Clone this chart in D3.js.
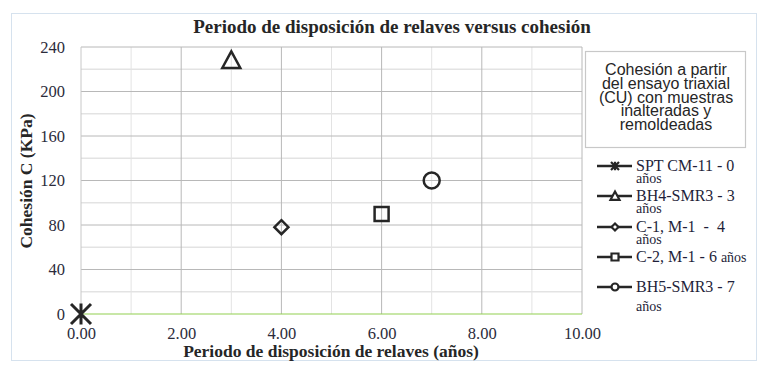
<!DOCTYPE html>
<html><head><meta charset="utf-8">
<script src="https://cdn.jsdelivr.net/npm/d3@7"></script>
<style>body{margin:0;background:#fff} text{white-space:pre}</style>
</head><body>
<svg id="c" width="763" height="365"></svg>
<script>
const seriesNames = ["SPT CM-11 - 0 años","BH4-SMR3 - 3 años","C-1, M-1  -  4 años","C-2, M-1 - 6 años","BH5-SMR3 - 7 años"];
const seriesX = [0, 3, 4, 6, 7];
const seriesY = [0, 228, 78, 90, 120];
const seriesSymbols = ["asterisk","triangle","diamond","square","circle"];
const xTicks = [0,2,4,6,8,10];
const yTicks = [0,40,80,120,160,200,240];
const legendTitle = ["Cohesión a partir","del ensayo triaxial","(CU) con muestras","inalteradas y","remoldeadas"];

const svg = d3.select("#c");
const L=81,R=582,T=47,B=314;
const x = d3.scaleLinear().domain([0,10]).range([L,R]);
const y = d3.scaleLinear().domain([0,240]).range([B,T]);
const serif = "'Liberation Serif','Times New Roman',serif";
const sans = "'Liberation Sans',Arial,sans-serif";

svg.append("rect").attr("x",11.5).attr("y",13.5).attr("width",745).attr("height",347)
  .attr("fill","#fff").attr("stroke","#d6e2ee");

// minor grid
const g = svg.append("g");
d3.range(1,10,2).forEach(v=>g.append("line").attr("x1",x(v)).attr("x2",x(v)).attr("y1",T).attr("y2",B).attr("stroke","#e3e3e3"));
d3.range(20,240,40).forEach(v=>g.append("line").attr("x1",L).attr("x2",R).attr("y1",y(v)).attr("y2",y(v)).attr("stroke","#e3e3e3").attr("stroke-width",1.5));
// major grid
xTicks.slice(1).forEach(v=>g.append("line").attr("x1",x(v)).attr("x2",x(v)).attr("y1",T).attr("y2",B).attr("stroke","#b8b8b8"));
yTicks.slice(1).forEach(v=>g.append("line").attr("x1",L).attr("x2",R).attr("y1",y(v)).attr("y2",y(v)).attr("stroke","#b8b8b8"));
g.append("line").attr("x1",L).attr("x2",L).attr("y1",T).attr("y2",B).attr("stroke","#c8c8c8");
g.append("line").attr("x1",L).attr("x2",R).attr("y1",y(0)).attr("y2",y(0)).attr("stroke","#92d050").attr("stroke-width",1.2);

// axes
const xa = svg.append("g").attr("transform",`translate(0,${B})`)
  .call(d3.axisBottom(x).tickValues(xTicks).tickFormat(d3.format(".2f")).tickSize(0).tickPadding(13));
const ya = svg.append("g").attr("transform",`translate(${L},0)`)
  .call(d3.axisLeft(y).tickValues(yTicks).tickSize(0).tickPadding(16));
[xa,ya].forEach(a=>{a.select(".domain").remove();a.selectAll("text").attr("font-family",serif).attr("font-size",16.5).attr("fill","#2b2b3b");});

// title and labels
svg.append("text").attr("x",392).attr("y",33).attr("text-anchor","middle").attr("font-family",serif)
  .attr("font-weight","bold").attr("font-size",19).attr("fill","#262626").text("Periodo de disposición de relaves versus cohesión");
svg.append("text").attr("x",331).attr("y",357).attr("text-anchor","middle").attr("font-family",serif)
  .attr("font-weight","bold").attr("font-size",17.5).attr("fill","#262626").text("Periodo de disposición de relaves (años)");
svg.append("text").attr("transform","translate(32,181) rotate(-90)").attr("text-anchor","middle").attr("font-family",serif)
  .attr("font-weight","bold").attr("font-size",17.5).attr("fill","#262626").text("Cohesión C (KPa)");

function symbolPath(name, s){
  const h=s/2;
  if(name==="asterisk") return `M${-h},${-h}L${h},${h}M${-h},${h}L${h},${-h}M0,${-h*1.05}L0,${h*1.05}`;
  if(name==="triangle") return `M0,${-h}L${h},${h*0.85}L${-h},${h*0.85}Z`;
  if(name==="diamond") return `M0,${-h}L${h},0L0,${h}L${-h},0Z`;
  if(name==="square") return `M${-h},${-h}H${h}V${h}H${-h}Z`;
  if(name==="circle") return `M${h},0A${h},${h} 0 1 1 ${-h},0A${h},${h} 0 1 1 ${h},0Z`;
}
const sizes = {asterisk:20,triangle:18,diamond:14,square:14,circle:16};
const col="#262626";
seriesX.forEach((vx,i)=>{
  svg.append("path").attr("transform",`translate(${x(vx)},${y(seriesY[i])})`)
    .attr("d",symbolPath(seriesSymbols[i],sizes[seriesSymbols[i]]))
    .attr("fill","none").attr("stroke",col).attr("stroke-width",seriesSymbols[i]==="asterisk"?3:2.5);
});

// legend
svg.append("rect").attr("x",585.5).attr("y",51.5).attr("width",160).attr("height",96).attr("fill","#fff").attr("stroke","#c8c8c8").attr("stroke-width",1.2);
legendTitle.forEach((t,i)=>svg.append("text").attr("x",666).attr("y",75+i*13.8).attr("text-anchor","middle")
  .attr("font-family",sans).attr("font-size",16).attr("fill","#262626").text(t));

const legY = [166,196,227,257,287];
seriesNames.forEach((n,i)=>{
  const ly = legY[i];
  svg.append("line").attr("x1",597).attr("x2",632).attr("y1",ly).attr("y2",ly).attr("stroke",col).attr("stroke-width",2.5);
  const s = seriesSymbols[i];
  const sz = s==="asterisk"?8:(s==="triangle"?9:7);
  svg.append("path").attr("transform",`translate(615,${ly})`).attr("d",symbolPath(s,sz))
    .attr("fill",s==="asterisk"?"none":"#fff").attr("stroke",col).attr("stroke-width",2.2);
  const main = n.replace(/ años$/,"");
  if(i===3){
    const t = svg.append("text").attr("x",636).attr("y",ly+5).attr("font-family",serif).attr("font-size",16).attr("fill","#1f1f3a");
    t.append("tspan").text(main+" ");
    t.append("tspan").attr("font-size",14).text("años");
  } else {
    svg.append("text").attr("x",636).attr("y",ly+5).attr("font-family",serif).attr("font-size",16).attr("fill","#1f1f3a").text(main);
    svg.append("text").attr("x",636).attr("y",ly+(i===4?24:17)).attr("font-family",serif).attr("font-size",14).attr("fill","#1f1f3a").text("años");
  }
});
</script>
</body></html>
